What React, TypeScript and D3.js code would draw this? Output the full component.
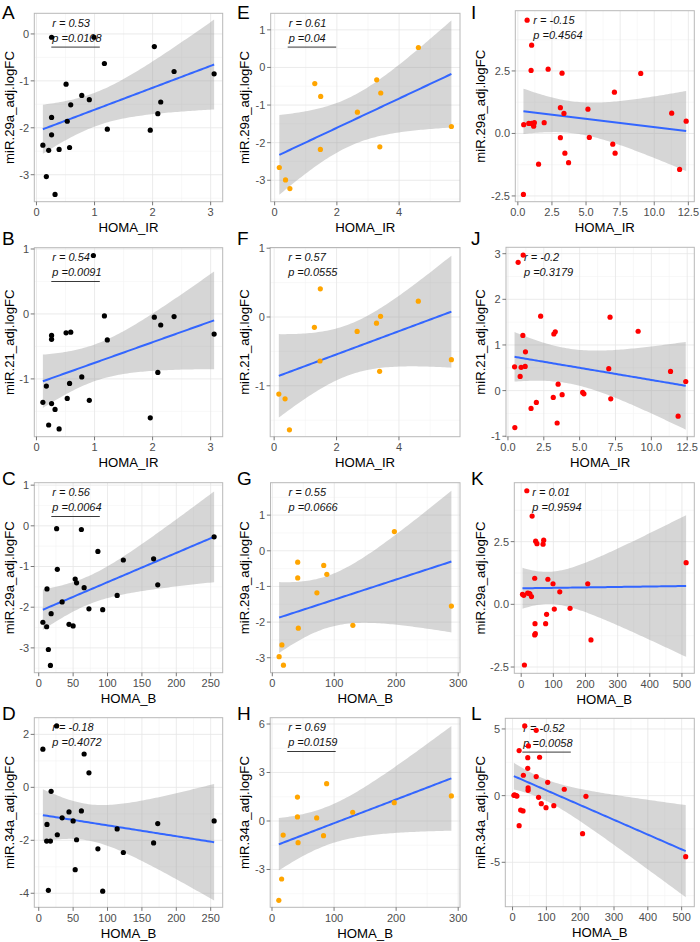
import React from "react";
import * as d3 from "d3";

// ---------- DATA ----------
// Panel A: HOMA_IR vs miR.29a (black)
const aX = [0.26, 0.99, 2.03, 1.17, 2.37, 3.06, 0.51, 0.78, 0.91, 0.59, 2.14, 2.09, 0.26, 0.53, 1.22, 1.96, 0.26, 0.11, 0.21, 0.39, 0.57, 0.17, 0.32];
const aY = [-0.07, -0.07, -0.27, -0.63, -0.8, -0.85, -1.07, -1.31, -1.4, -1.51, -1.45, -1.7, -1.78, -1.86, -2.03, -2.05, -2.15, -2.37, -2.48, -2.46, -2.42, -3.04, -3.42];
// Panel B: HOMA_IR vs miR.21 (black)
const bX = [0.98, 1.17, 2.03, 2.37, 2.14, 3.06, 0.51, 0.59, 0.26, 0.26, 1.22, 2.09, 0.78, 0.57, 0.17, 0.53, 0.91, 0.11, 0.26, 0.32, 1.96, 0.21, 0.39];
const bY = [0.9, -0.03, -0.05, -0.04, -0.17, -0.31, -0.29, -0.28, -0.33, -0.39, -0.4, -0.9, -0.97, -1.07, -1.11, -1.3, -1.33, -1.36, -1.38, -1.47, -1.6, -1.71, -1.77];
// Panel C: HOMA_B vs miR.29a (black)
const cX = [26, 62, 86, 255, 167, 123, 27, 53, 55, 66, 173, 114, 12, 34, 18, 6, 11.5, 44, 50, 73, 93, 14, 17];
const cY = [-0.07, -0.09, -0.63, -0.27, -0.81, -0.84, -1.07, -1.31, -1.4, -1.52, -1.45, -1.71, -1.55, -1.87, -2.16, -2.37, -2.48, -2.42, -2.46, -2.04, -2.06, -3.04, -3.43];
// Panel D: HOMA_B vs miR.34a (black)
const dX = [26, 6, 66, 73, 18, 62, 44, 34, 50, 12, 173, 255, 114, 27, 11.5, 17, 55, 167, 86, 123, 53, 14, 93];
const dY = [2.32, 1.44, 1.26, 0.55, -0.15, -0.89, -0.93, -1.15, -1.27, -1.4, -1.37, -1.27, -1.57, -1.79, -2.03, -2.03, -1.98, -2.1, -2.32, -2.46, -3.11, -3.89, -3.92];
// Panel E: HOMA_IR vs miR.29a (orange)
const eX = [0.15, 0.35, 0.49, 1.29, 1.48, 1.47, 2.66, 3.28, 3.41, 3.38, 4.62, 5.68];
const eY = [-2.66, -2.99, -3.22, -0.43, -0.77, -2.18, -1.19, -0.33, -0.68, -2.11, 0.53, -1.57];
// Panel F: HOMA_IR vs miR.21 (orange)
const fX = [0.15, 0.35, 0.49, 1.29, 1.48, 1.47, 2.66, 3.28, 3.41, 3.38, 4.62, 5.68];
const fY = [-1.12, -1.19, -1.64, -0.15, 0.41, -0.64, -0.21, -0.09, 0.01, -0.79, 0.23, -0.62];
// Panel G: HOMA_B vs miR.29a (orange)
const gX = [11, 15.5, 18, 41, 41, 42, 72, 83, 88, 130, 197, 289];
const gY = [-2.97, -2.64, -3.21, -0.32, -0.76, -2.17, -1.18, -0.41, -0.66, -2.09, 0.54, -1.55];
// Panel H: HOMA_B vs miR.34a (orange)
const hX = [11, 15.5, 18, 41, 41, 42, 72, 83, 88, 130, 197, 289];
const hY = [-4.91, -3.59, -0.87, 1.48, 0.25, -1.34, 0.19, -0.91, 2.31, 0.54, 1.13, 1.55];
// Panel I: HOMA_IR vs miR.29a (red)
const iX = [0.68, 1.01, 0.97, 2.22, 3.24, 9.01, 7.08, 3.12, 3.38, 5.14, 11.28, 12.34, 0.43, 0.8, 1.01, 1.21, 1.16, 1.93, 3.12, 5.24, 6.96, 3.45, 7.13, 1.52, 3.72, 11.86, 0.41];
const iY = [4.53, 3.53, 2.52, 2.57, 2.41, 2.4, 1.65, 1.03, 0.8, 0.97, 0.81, 0.49, 0.35, 0.4, 0.4, 0.43, 0.29, 0.43, -0.17, -0.16, -0.43, -0.79, -0.79, -1.23, -1.17, -1.44, -2.44];
// Panel J: HOMA_IR vs miR.21 (red)
const jX = [0.71, 1.06, 2.28, 7.12, 3.2, 3.3, 9.08, 1.04, 1.22, 0.46, 0.92, 1.2, 0.85, 7.03, 11.34, 12.4, 3.5, 5.21, 5.3, 3.78, 3.16, 7.17, 1.98, 1.61, 11.87, 3.43, 0.48];
const jY = [2.81, 2.97, 1.63, 1.61, 1.24, 1.29, 1.3, 1.21, 0.85, 0.52, 0.51, 0.53, 0.31, 0.48, 0.42, 0.2, 0.14, -0.04, -0.07, -0.09, -0.15, -0.18, -0.26, -0.39, -0.56, -0.71, -0.81];
// Panel K: HOMA_B vs miR.29a (red)
const kX = [17.5, 34, 45, 49, 70, 68, 513, 42, 83, 99, 207, 120, 4, 8, 20, 24, 27, 32, 103, 152, 79, 43, 76, 44, 42, 217, 10];
const kY = [4.53, 3.52, 2.52, 2.42, 2.56, 2.4, 1.66, 1.04, 1.0, 0.82, 0.82, 0.5, 0.4, 0.36, 0.45, 0.44, 0.42, 0.31, -0.19, -0.16, -0.4, -0.77, -0.77, -1.17, -1.22, -1.42, -2.42];
// Panel L: HOMA_B vs miR.34a (red)
const lX = [36, 70, 47, 19.5, 45, 80, 45, 32, 70, 104, 46, 46, 153, 6, 13, 4, 11, 77, 217, 85, 122, 99, 24, 31, 19.5, 207, 512];
const lY = [5.23, 4.9, 3.73, 3.38, 2.85, 2.88, 2.05, 1.53, 1.43, 1.0, 0.58, 0.4, 0.48, 0.05, -0.03, 0.02, 0.0, -0.13, -0.05, -0.6, -0.75, -0.9, -1.08, -1.15, -2.25, -2.85, -4.58];

// Tick values
const xTicksIRBlack = [0, 1, 2, 3];
const xTicksBBlack = [0, 50, 100, 150, 200, 250];
const xTicksIROrange = [0, 2, 4];
const xTicksBOrange = [0, 100, 200, 300];
const xTicksIRRed = [0, 2.5, 5, 7.5, 10, 12.5];
const xTicksBRed = [0, 100, 200, 300, 400, 500];
const yTicksA = [-3, -2, -1, 0];
const yTicksB = [-1, 0, 1];
const yTicksC = [-3, -2, -1, 0, 1];
const yTicksD = [-4, -2, 0, 2];
const yTicksE = [-3, -2, -1, 0, 1];
const yTicksF = [-1, 0, 1];
const yTicksG = [-3, -2, -1, 0, 1];
const yTicksH = [-3, 0, 3, 6];
const yTicksI = [-2.5, 0, 2.5];
const yTicksJ = [-1, 0, 1, 2, 3];
const yTicksK = [-2.5, 0, 2.5];
const yTicksL = [-5, 0, 5];

// y axis limits (as drawn)
const yDomA = [-3.575, 0.44];
const yDomB = [-1.89, 1.02];
const yDomC = [-3.61, 1.06];
const yDomD = [-4.53, 2.63];
const yDomE = [-3.57, 1.44];
const yDomF = [-1.74, 1.01];
const yDomG = [-3.42, 1.91];
const yDomH = [-5.34, 6.39];
const yDomI = [-2.73, 4.91];
const yDomJ = [-1.01, 3.14];
const yDomK = [-2.75, 4.85];
const yDomL = [-8.33, 5.8];

const rTexts = ["r = 0.53", "r = 0.54", "r = 0.56", "r = -0.18", "r = 0.61", "r = 0.57", "r = 0.55", "r = 0.69", "r = -0.15", "r = -0.2", "r = 0.01", "r = -0.52"];
const pTexts = ["p =0.0108", "p =0.0091", "p =0.0064", "p =0.4072", "p =0.04", "p =0.0555", "p =0.0666", "p =0.0159", "p =0.4564", "p =0.3179", "p =0.9594", "p =0.0058"];
const letters = ["A", "B", "C", "D", "E", "F", "G", "H", "I", "J", "K", "L"];
const yLabels = ["miR.29a_adj.logFC", "miR.21_adj.logFC", "miR.29a_adj.logFC", "miR.34a_adj.logFC"];
const xLabels = ["HOMA_IR", "HOMA_IR", "HOMA_B", "HOMA_B"];

// ---------- layout ----------
const FONT = "'Liberation Sans', Arial, Helvetica, sans-serif";
const COLORS = ["#000000", "#FFA500", "#FF0000"];
// plot rectangles [left, top, right, bottom]
const RECTS: number[][] = [
  [34.3, 13.3, 222.7, 201.7],
  [34.3, 247.7, 222.7, 436.7],
  [34.3, 482.7, 222.7, 672.7],
  [34.3, 717.7, 222.7, 907.3],
  [270.7, 13.3, 460, 201.7],
  [270.2, 247.5, 460, 436.7],
  [270.5, 482.7, 460, 672.7],
  [270.2, 717.7, 460, 907.3],
  [515.3, 10.7, 694.3, 201.7],
  [506, 247.3, 694.3, 436.7],
  [514.3, 482.7, 694.3, 673.3],
  [505.3, 718.3, 694.3, 906.7],
];
const COL_X = [2, 237, 471];
const ROW_LETTER_Y = [18.5, 245, 485, 720];
const YTITLE_X = [14.2, 249, 484.5];

function tq975(df: number) {
  const z = 1.959963985;
  const z3 = z ** 3, z5 = z ** 5, z7 = z ** 7, z9 = z ** 9;
  const g1 = (z3 + z) / 4;
  const g2 = (5 * z5 + 16 * z3 + 3 * z) / 96;
  const g3 = (3 * z7 + 19 * z5 + 17 * z3 - 15 * z) / 384;
  const g4 = (79 * z9 + 776 * z7 + 1482 * z5 - 1920 * z3 - 945 * z) / 92160;
  return z + g1 / df + g2 / df ** 2 + g3 / df ** 3 + g4 / df ** 4;
}

function fmt(v: number, dec: number) {
  return dec ? v.toFixed(dec) : String(v);
}

type PanelDef = {
  x: number[]; y: number[]; xTicks: number[]; yTicks: number[]; yDom: number[];
  xDec: number; yDec: number;
};

const PANELS: PanelDef[] = [
  { x: aX, y: aY, xTicks: xTicksIRBlack, yTicks: yTicksA, yDom: yDomA, xDec: 0, yDec: 0 },
  { x: bX, y: bY, xTicks: xTicksIRBlack, yTicks: yTicksB, yDom: yDomB, xDec: 0, yDec: 0 },
  { x: cX, y: cY, xTicks: xTicksBBlack, yTicks: yTicksC, yDom: yDomC, xDec: 0, yDec: 0 },
  { x: dX, y: dY, xTicks: xTicksBBlack, yTicks: yTicksD, yDom: yDomD, xDec: 0, yDec: 0 },
  { x: eX, y: eY, xTicks: xTicksIROrange, yTicks: yTicksE, yDom: yDomE, xDec: 0, yDec: 0 },
  { x: fX, y: fY, xTicks: xTicksIROrange, yTicks: yTicksF, yDom: yDomF, xDec: 0, yDec: 0 },
  { x: gX, y: gY, xTicks: xTicksBOrange, yTicks: yTicksG, yDom: yDomG, xDec: 0, yDec: 0 },
  { x: hX, y: hY, xTicks: xTicksBOrange, yTicks: yTicksH, yDom: yDomH, xDec: 0, yDec: 0 },
  { x: iX, y: iY, xTicks: xTicksIRRed, yTicks: yTicksI, yDom: yDomI, xDec: 1, yDec: 1 },
  { x: jX, y: jY, xTicks: xTicksIRRed, yTicks: yTicksJ, yDom: yDomJ, xDec: 1, yDec: 0 },
  { x: kX, y: kY, xTicks: xTicksBRed, yTicks: yTicksK, yDom: yDomK, xDec: 0, yDec: 1 },
  { x: lX, y: lY, xTicks: xTicksBRed, yTicks: yTicksL, yDom: yDomL, xDec: 0, yDec: 0 },
];

function minors(ticks: number[], dom: number[]) {
  const step = ticks[1] - ticks[0];
  const out: number[] = [];
  for (let v = ticks[0] - step / 2; v <= ticks[ticks.length - 1] + step; v += step) {
    if (v >= Math.min(dom[0], dom[1]) && v <= Math.max(dom[0], dom[1])) out.push(v);
  }
  return out;
}

function Panel({ idx }: { idx: number }) {
  const P = PANELS[idx];
  const col = Math.floor(idx / 4);
  const row = idx % 4;
  const [x0, y0, x1, y1] = RECTS[idx];
  const xmin = d3.min(P.x)!, xmax = d3.max(P.x)!;
  const pad = (xmax - xmin) * 0.05;
  const xDom = [xmin - pad, xmax + pad];
  const xs = d3.scaleLinear().domain(xDom).range([x0, x1]);
  const ys = d3.scaleLinear().domain(P.yDom).range([y1, y0]);

  // linear model + 95% CI
  const n = P.x.length;
  const mx = d3.mean(P.x)!, my = d3.mean(P.y)!;
  let sxx = 0, sxy = 0;
  P.x.forEach((xv, i) => { sxx += (xv - mx) ** 2; sxy += (xv - mx) * (P.y[i] - my); });
  const b = sxy / sxx, a = my - b * mx;
  let sse = 0;
  P.x.forEach((xv, i) => { sse += (P.y[i] - a - b * xv) ** 2; });
  const s = Math.sqrt(sse / (n - 2));
  const t = tq975(n - 2);
  const grid = d3.range(80).map((i) => xmin + ((xmax - xmin) * i) / 79);
  const band = grid.map((xv) => {
    const yh = a + b * xv;
    const se = s * Math.sqrt(1 / n + (xv - mx) ** 2 / sxx);
    return { x: xv, y: yh, lo: yh - t * se, hi: yh + t * se };
  });
  const area = d3.area<any>().x((d) => xs(d.x)).y0((d) => ys(d.lo)).y1((d) => ys(d.hi));
  const line = d3.line<any>().x((d) => xs(d.x)).y((d) => ys(d.y));

  const color = COLORS[col];
  const clipId = `clip${idx}`;
  const xMin = minors(P.xTicks, xDom);
  const yMin = minors(P.yTicks, P.yDom);
  const pv = parseFloat(pTexts[idx].replace("p =", ""));
  const sig = pv < 0.05;

  return (
    <g>
      <defs>
        <clipPath id={clipId}>
          <rect x={x0} y={y0} width={x1 - x0} height={y1 - y0} />
        </clipPath>
      </defs>
      <rect x={x0} y={y0} width={x1 - x0} height={y1 - y0} fill="#fff" />
      <g clipPath={`url(#${clipId})`}>
        {xMin.map((v, i) => (
          <line key={"xm" + i} x1={xs(v)} x2={xs(v)} y1={y0} y2={y1} stroke="#f3f3f3" strokeWidth={0.6} />
        ))}
        {yMin.map((v, i) => (
          <line key={"ym" + i} x1={x0} x2={x1} y1={ys(v)} y2={ys(v)} stroke="#f3f3f3" strokeWidth={0.6} />
        ))}
        {P.xTicks.map((v, i) => (
          <line key={"xg" + i} x1={xs(v)} x2={xs(v)} y1={y0} y2={y1} stroke="#e6e6e6" strokeWidth={0.8} />
        ))}
        {P.yTicks.map((v, i) => (
          <line key={"yg" + i} x1={x0} x2={x1} y1={ys(v)} y2={ys(v)} stroke="#e6e6e6" strokeWidth={0.8} />
        ))}
        <path d={area(band)!} fill="#999999" fillOpacity={0.4} />
        <path d={line(band)!} fill="none" stroke="#3366FF" strokeWidth={2} />
        <text x={x0 + 18} y={y0 + 13.6} fontFamily={FONT} fontSize={11} fontStyle="italic" fill="#111">{rTexts[idx]}</text>
        <text x={x0 + 18} y={y0 + 28.6} fontFamily={FONT} fontSize={11} fontStyle="italic" fill="#111">{pTexts[idx]}</text>
        {sig && <line x1={x0 + 17} x2={x0 + 65.5} y1={y0 + 33.8} y2={y0 + 33.8} stroke="#222" strokeWidth={0.9} />}
        {P.x.map((xv, i) => (
          <circle key={"pt" + i} cx={xs(xv)} cy={ys(P.y[i])} r={2.6} fill={color} />
        ))}
      </g>
      <rect x={x0} y={y0} width={x1 - x0} height={y1 - y0} fill="none" stroke="#b8b8b8" strokeWidth={1} />
      {P.xTicks.map((v, i) => (
        <g key={"xt" + i}>
          <line x1={xs(v)} x2={xs(v)} y1={y1} y2={y1 + 3.6} stroke="#555" strokeWidth={0.8} />
          <text x={xs(v)} y={y1 + 14.3} textAnchor="middle" fontFamily={FONT} fontSize={11} fill="#4d4d4d">{fmt(v, P.xDec)}</text>
        </g>
      ))}
      {P.yTicks.map((v, i) => (
        <g key={"yt" + i}>
          <line x1={x0 - 3.6} x2={x0} y1={ys(v)} y2={ys(v)} stroke="#555" strokeWidth={0.8} />
          <text x={x0 - 5.3} y={ys(v)} dy="0.36em" textAnchor="end" fontFamily={FONT} fontSize={11} fill="#4d4d4d">{fmt(v, P.yDec)}</text>
        </g>
      ))}
      <text x={(x0 + x1) / 2} y={y1 + 30.6} textAnchor="middle" fontFamily={FONT} fontSize={13.2} fill="#000">{xLabels[row]}</text>
      <text transform={`translate(${YTITLE_X[col]},${(y0 + y1) / 2}) rotate(-90)`} textAnchor="middle" fontFamily={FONT} fontSize={13.2} fill="#000">{yLabels[row]}</text>
      <text x={COL_X[col]} y={ROW_LETTER_Y[row]} fontFamily={FONT} fontSize={19} fill="#000">{letters[idx]}</text>
    </g>
  );
}

export default function App() {
  return (
    <svg width={700} height={942} style={{ position: "absolute", left: 0, top: 0, background: "#fff" }}>
      <rect width={700} height={942} fill="#fff" />
      {PANELS.map((_, i) => (
        <Panel key={i} idx={i} />
      ))}
    </svg>
  );
}
